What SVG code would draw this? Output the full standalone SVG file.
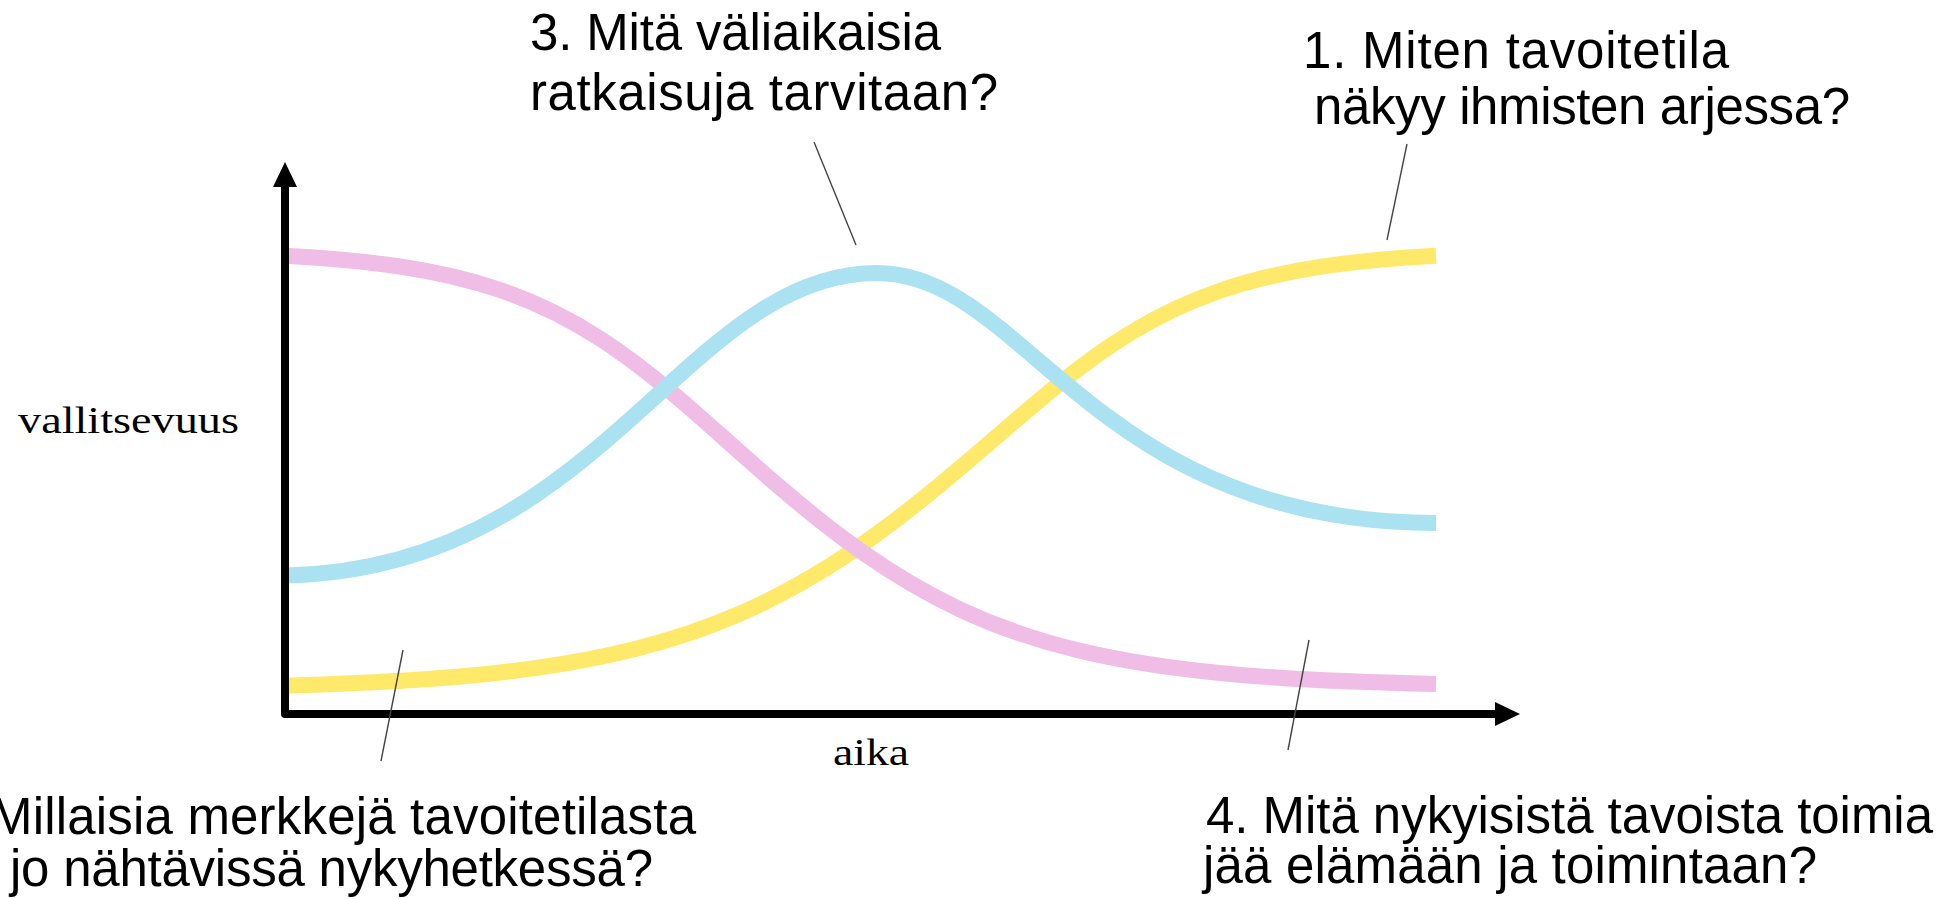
<svg xmlns="http://www.w3.org/2000/svg" width="1949" height="899" viewBox="0 0 1949 899">
<style>
.lbl{font-family:"Liberation Sans",Arial,sans-serif;font-size:51px;fill:#000}
.ax{font-family:"Liberation Serif","Times New Roman",serif;font-size:37px;fill:#000}
.curve{fill:none;stroke-width:16;stroke-linecap:butt;stroke-linejoin:round}
.lead{stroke:#444;stroke-width:1.4;fill:none}
</style>
<rect width="1949" height="899" fill="#fff"/>
<g id="curves">
<path id="yellow" class="curve" stroke="#FFE96B" d="M285,685.72 C330,684.45 375,682.65 420,679.59 C460,676.87 500,673.16 540,667.4 C573.33,662.6 606.67,656.36 640,647.73 C673.33,639.1 706.67,628.05 740,613.58 C770,600.55 800,584.71 830,565.83 C860,546.95 890,525.02 920,501.02 C947.67,478.89 975.33,455.07 1003,431.2 C1022,414.81 1041,398.42 1060,383.18 C1083.33,364.46 1106.67,347.53 1130,333.28 C1160,314.95 1190,301.06 1220,290.73 C1253.33,279.25 1286.67,271.99 1320,266.88 C1358.67,260.95 1397.33,257.86 1436,255.77"/>
<path id="pink" class="curve" stroke="#EFBDE5" d="M285,255.69 C323.33,257.74 361.67,260.76 400,266.52 C433.33,271.53 466.67,278.66 500,290.01 C533.33,301.36 566.67,317.15 600,338.63 C626.67,355.81 653.33,376.66 680,399.47 C694.33,411.73 708.67,424.51 723,437.3 C742,454.25 761,471.18 780,487.44 C806.67,510.26 833.33,531.67 860,550.56 C893.33,574.17 926.67,593.78 960,609.39 C1000,628.12 1040,641.26 1080,650.84 C1130,662.82 1180,669.48 1230,674 C1298.67,680.2 1367.33,682.47 1436,683.95"/>
<path id="blue" class="curve" stroke="#ABE2F2" d="M285,575.5 C601,570 684,273 877,273 C1025.7,273 1092,523 1436,523"/>
</g>
<g id="axes">
<path d="M285,186 L285,714 L1497,714" fill="none" stroke="#000" stroke-width="8" stroke-linejoin="round"/>
<polygon points="285,162 297,187 273,187" fill="#000"/>
<polygon points="1520,714 1495,702 1495,726" fill="#000"/>
<text class="ax" x="18" y="433" textLength="221" lengthAdjust="spacingAndGlyphs">vallitsevuus</text>
<text class="ax" x="833" y="765" textLength="76" lengthAdjust="spacingAndGlyphs">aika</text>
</g>
<g id="connectors">
<line class="lead" x1="814" y1="142" x2="856" y2="245"/>
<line class="lead" x1="1407" y1="144" x2="1387" y2="240"/>
<line class="lead" x1="403" y1="650" x2="381" y2="761"/>
<line class="lead" x1="1309" y1="640" x2="1288" y2="750"/>
</g>
<g id="label3">
<text class="lbl" x="530" y="50" textLength="411">3. Mitä väliaikaisia</text>
<text class="lbl" x="530" y="110" textLength="468">ratkaisuja tarvitaan?</text>
</g>
<g id="label1">
<text class="lbl" x="1303" y="68" textLength="426">1. Miten tavoitetila</text>
<text class="lbl" x="1314" y="124" textLength="536">näkyy ihmisten arjessa?</text>
</g>
<g id="label2">
<text class="lbl" x="-10" y="834" textLength="706">Millaisia merkkejä tavoitetilasta</text>
<text class="lbl" x="10" y="886" textLength="643">jo nähtävissä nykyhetkessä?</text>
</g>
<g id="label4">
<text class="lbl" x="1206" y="833" textLength="727">4. Mitä nykyisistä tavoista toimia</text>
<text class="lbl" x="1203" y="883" textLength="614">jää elämään ja toimintaan?</text>
</g>
</svg>
